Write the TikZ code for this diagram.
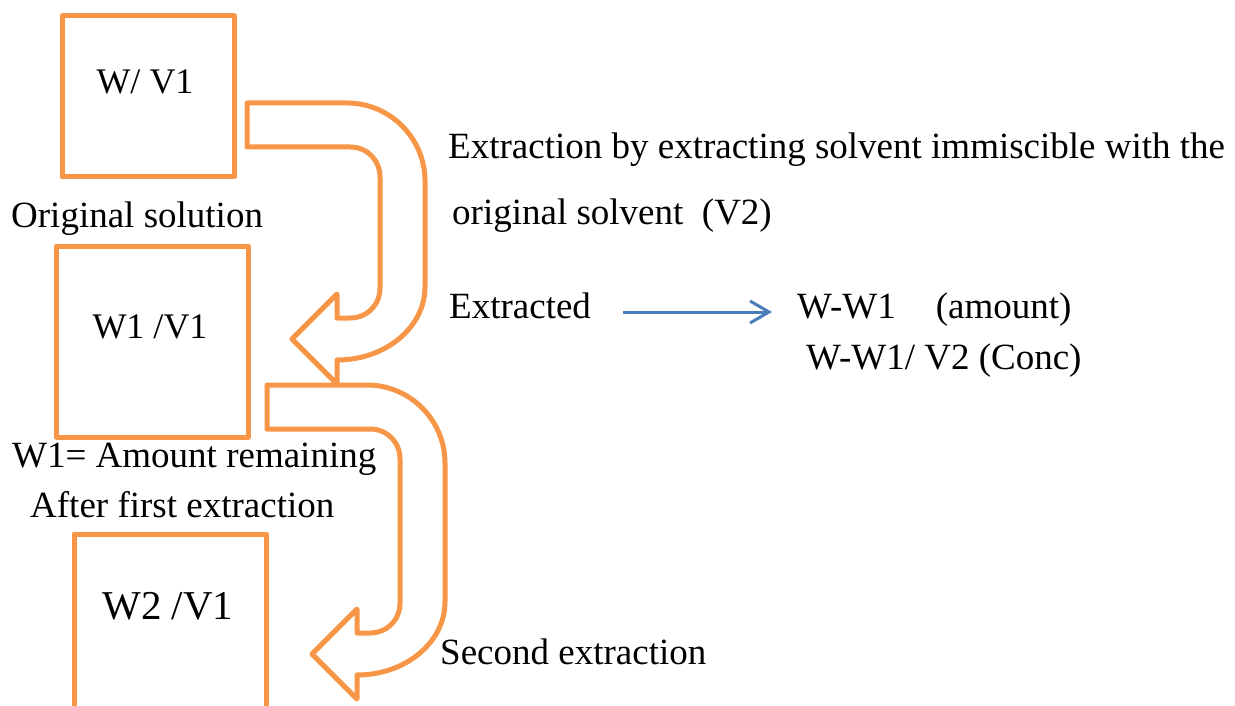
\documentclass[tikz,border=0pt]{standalone}
\usepackage{fontspec}
\setmainfont{Liberation Serif}
\usetikzlibrary{arrows.meta}
\definecolor{extorange}{HTML}{F79646}
\definecolor{extblue}{HTML}{4A7EBB}
\begin{document}
\begin{tikzpicture}[y=-1pt,x=1pt]
        \tikzset{
            box/.style={draw=extorange,line width=5pt,line join=round,minimum width=192pt,minimum height=191pt,inner sep=0pt},
            boxlbl/.style={inner sep=0pt,anchor=base,font=\fontsize{36}{43}\selectfont},
            txt/.style={inner sep=0pt,anchor=base west,font=\fontsize{37}{44}\selectfont},
            flow/.style={draw=extblue,line width=3pt,-{Straight Barb[length=19pt,width=22pt]}},
            bendline/.style={draw=extorange,line width=5pt,line join=round},
            uturn/.pic={
                \draw[bendline] (0,0) -- (100,0) .. controls (143,0) and (178,35) .. (178,78)
                    -- (178,#1-73) .. controls (178,#1-33) and (139,#1) .. (90,#1)
                    -- (90,#1+24) -- (45,#1-21) -- (90,#1-66) -- (90,#1-42)
                    -- (103,#1-42) .. controls (120,#1-42) and (133,#1-55) .. (133,#1-72)
                    -- (133,74) .. controls (133,57) and (120,44) .. (103,44)
                    -- (0,44) -- cycle;
            }
        }
        \useasboundingbox (0,0) rectangle (1235,706);
        \clip (0,0) rectangle (1235,706);

        \node[box,minimum width=172pt,minimum height=161pt] (b1) at (148,96.5) {};
        \node[box] (b2) at (152,341.5) {};
        \node[box] (b3) at (170,629.5) {};

        \node[boxlbl] (l1) at (145,94) {W/ V1};
        \node[boxlbl] (l2) at (150,338) {W1 /V1};
        \node[boxlbl,font=\fontsize{41}{49}\selectfont] (l3) at (168,619) {W2 /V1};

        \node[txt] (orig) at (11,227) {Original solution};
        \node[txt] (rem1) at (12,467) {W1= Amount remaining};
        \node[txt] (rem2) at (30,517) {After first extraction};

        \pic at (247,103) {uturn=257};
        \pic at (267,385) {uturn=290};

        \node[txt] (desc1) at (448,159) {Extraction by extracting solvent immiscible with the};
        \node[txt] (desc2) at (452,224) {original solvent\ \ (V2)};
        \node[txt] (ext) at (449,318) {Extracted};
        \node[txt] (amt) at (797,318) {W-W1\hspace{40pt}(amount)};
        \node[txt] (conc) at (806,369) {W-W1/ V2 (Conc)};
        \node[txt] (second) at (440,664) {Second extraction};

        \draw[flow] ([xshift=32pt,yshift=6pt]ext.base east) -- ([xshift=-25pt,yshift=6pt]amt.base west);
    \end{tikzpicture}
\end{document}
